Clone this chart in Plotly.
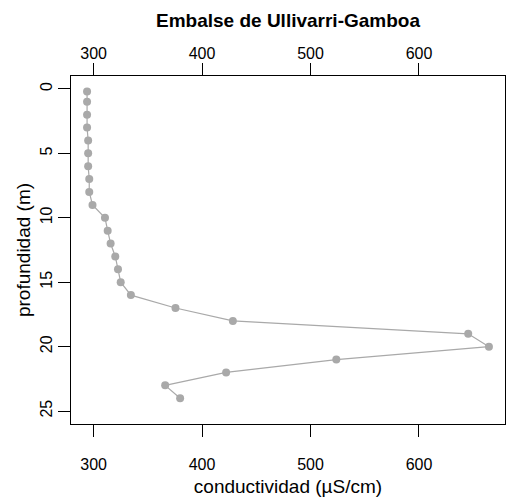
import plotly.graph_objects as go

depth = [0.2, 1, 2, 3, 4, 5, 6, 7, 8, 9, 10, 11, 12, 13, 14, 15, 16, 17, 18, 19, 20, 21, 22, 23, 24]
conductivity = [294, 294, 294, 294, 295, 295, 295, 296, 296, 299, 310.5, 313, 315.7, 320, 322.5, 325,
                334.4, 375.5, 428.4, 645.4, 664.5, 523.8, 422.2, 366, 379.8]
x_ticks = [300, 400, 500, 600]
y_ticks = [0, 5, 10, 15, 20, 25]

title = "Embalse de Ullivarri-Gamboa"
xlabel = "conductividad (µS/cm)"
ylabel = "profundidad (m)"

FONT = "Liberation Sans, Arial, sans-serif"
GRAY = "#a9a9a9"

xmin, xmax = min(conductivity), max(conductivity)
pad = 0.04 * (xmax - xmin)
xr = [xmin - pad, xmax + pad]
yr = [26, -1]

fig = go.Figure()
fig.add_trace(go.Scatter(
    x=conductivity, y=depth, mode="lines+markers",
    line=dict(color=GRAY, width=1.2),
    marker=dict(color=GRAY, size=8, symbol="circle"),
    showlegend=False, hoverinfo="skip", cliponaxis=False))

axis_common = dict(showgrid=False, zeroline=False, ticks="outside", ticklen=12,
                   tickcolor="black", tickwidth=1.2, automargin=False,
                   tickfont=dict(family=FONT, size=16, color="black"))

fig.update_layout(
    width=506, height=500,
    margin=dict(l=71, r=1, t=76, b=76),
    plot_bgcolor="white", paper_bgcolor="white",
    title=dict(text="<b>" + title + "</b>", x=(71 + 505) / 2 / 506, xanchor="center",
               y=1 - 20 / 500, yanchor="middle",
               font=dict(family=FONT, size=19, color="black")),
    xaxis=dict(range=xr, tickvals=x_ticks, ticktext=[str(v) for v in x_ticks],
               title=dict(text=xlabel, font=dict(family=FONT, size=19, color="black"), standoff=7),
               showline=True, linecolor="black", linewidth=1.2, mirror=True,
               ticklabelstandoff=14, **axis_common),
    xaxis2=dict(range=xr, tickvals=x_ticks, ticktext=[str(v) for v in x_ticks],
                overlaying="x", side="top", anchor="y",
                showline=True, linecolor="black", linewidth=1.2,
                ticklabelstandoff=-2, **axis_common),
    yaxis=dict(range=yr, tickvals=y_ticks, ticktext=[str(v) for v in y_ticks],
               tickangle=-90,
               title=dict(text=ylabel, font=dict(family=FONT, size=19, color="black"), standoff=1),
               showline=True, linecolor="black", linewidth=1.2, mirror=True,
               ticklabelstandoff=0, **axis_common),
)

# invisible trace to activate the top axis
fig.add_trace(go.Scatter(x=[xr[0]], y=[yr[0]], xaxis="x2", mode="markers",
                         marker=dict(opacity=0), showlegend=False, hoverinfo="skip"))

fig.write_html("out.html", config={"displayModeBar": False},
               post_script="document.body.style.margin='0';document.body.style.overflow='hidden';")
